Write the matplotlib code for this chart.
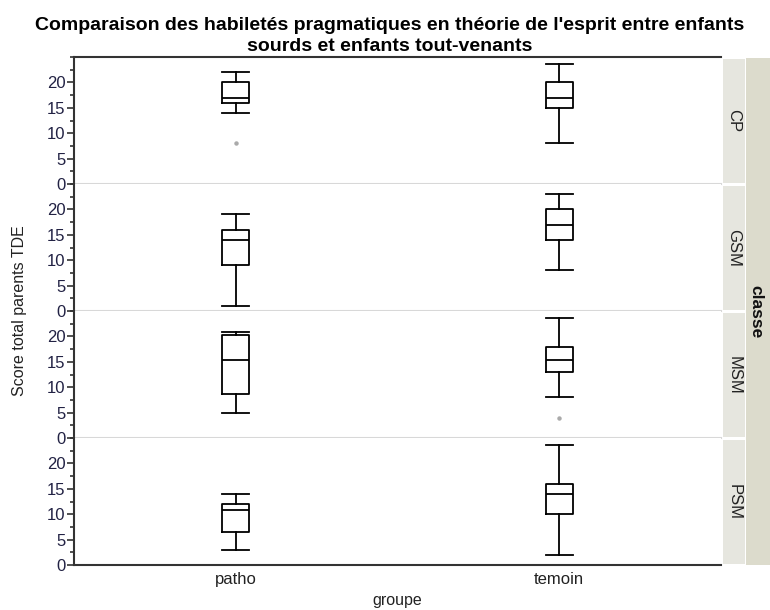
import matplotlib.pyplot as plt
from matplotlib.ticker import MultipleLocator

# data (per classe, per groupe)
classes = ["CP", "GSM", "MSM", "PSM"]
groups = ["patho", "temoin"]

q1 = {"CP": [16, 15], "GSM": [9, 14], "MSM": [8.7, 13], "PSM": [6.5, 10]}
med = {"CP": [17, 17], "GSM": [14, 17], "MSM": [15.4, 15.4], "PSM": [10.8, 14]}
q3 = {"CP": [20, 20], "GSM": [16, 20], "MSM": [20.2, 18], "PSM": [12, 16]}
whislo = {"CP": [14, 8], "GSM": [1, 8], "MSM": [5, 8], "PSM": [3, 2]}
whishi = {"CP": [22, 23.7], "GSM": [19, 23], "MSM": [20.8, 23.7], "PSM": [14, 23.7]}
fliers = {"CP": [[8], []], "GSM": [[], []], "MSM": [[], [4]], "PSM": [[], []]}

plt.rcParams["font.family"] = ["Liberation Sans", "DejaVu Sans"]

W, H = 770, 610
fig = plt.figure(figsize=(W / 100, H / 100), dpi=100)

left, right = 74, 721
edges = [57, 184, 311, 438, 565]
dark = "#333333"

for i, cl in enumerate(classes):
    top, bot = edges[i], edges[i + 1]
    ax = fig.add_axes([left / W, 1 - bot / H, (right - left) / W, (bot - top) / H])
    stats = []
    for j in range(2):
        stats.append(dict(med=med[cl][j], q1=q1[cl][j], q3=q3[cl][j],
                          whislo=whislo[cl][j], whishi=whishi[cl][j],
                          fliers=fliers[cl][j]))
    ax.bxp(stats, positions=[1, 2], widths=0.085, showcaps=True,
           boxprops=dict(color="black", linewidth=1.3),
           medianprops=dict(color="black", linewidth=1.3),
           whiskerprops=dict(color="black", linewidth=1.3),
           capprops=dict(color="black", linewidth=1.3),
           capwidths=0.085,
           flierprops=dict(marker="o", markersize=2.2, markerfacecolor="#aaaaaa",
                           markeredgecolor="#aaaaaa"))
    ax.set_xlim(0.5, 2.5)
    ax.set_ylim(0, 25)
    ax.yaxis.set_major_locator(MultipleLocator(5))
    ax.yaxis.set_minor_locator(MultipleLocator(2.5))
    ax.set_yticks([0, 5, 10, 15, 20])
    ax.tick_params(axis="y", which="major", length=5, width=1.2, color=dark,
                   labelsize=12, labelcolor="#222244", pad=1)
    ax.tick_params(axis="y", which="minor", length=3, width=1.2, color=dark)
    ax.spines["right"].set_visible(False)
    ax.spines["left"].set_color(dark)
    ax.spines["left"].set_linewidth(1.5)
    ax.spines["top"].set_visible(i == 0)
    ax.spines["top"].set_color(dark)
    ax.spines["top"].set_linewidth(1.5)
    if i < 3:
        ax.spines["bottom"].set_color("#d8d8d8")
        ax.spines["bottom"].set_linewidth(1.5)
        ax.set_xticks([])
    else:
        ax.spines["bottom"].set_color(dark)
        ax.spines["bottom"].set_linewidth(1.5)
        ax.set_xticks([1, 2])
        ax.set_xticklabels(groups)
        ax.tick_params(axis="x", length=0, labelsize=12, labelcolor="#222222", pad=5)
        ax.set_xlabel("groupe", fontsize=11.5, color="#222222", labelpad=4)

    # strip label for the panel
    sax = fig.add_axes([723 / W, 1 - (bot - 1) / H, 22 / W, (bot - top - 3) / H])
    sax.set_facecolor("#e6e6df")
    sax.set_xticks([])
    sax.set_yticks([])
    for s in sax.spines.values():
        s.set_visible(False)
    sax.text(0.5, 0.5, cl, rotation=270, ha="center", va="center",
             fontsize=12, color="#222222", transform=sax.transAxes)

# outer strip "classe"
oax = fig.add_axes([746 / W, 1 - 565 / H, 24 / W, (565 - 58) / H])
oax.set_facecolor("#dcdbcc")
oax.set_xticks([])
oax.set_yticks([])
for s in oax.spines.values():
    s.set_visible(False)
oax.text(0.4, 0.5, "classe", rotation=270, ha="center", va="center",
         fontsize=12.5, fontweight="bold", color="#111111", transform=oax.transAxes)

fig.text(20 / W, 1 - 311 / H, "Score total parents TDE", rotation=90,
         ha="center", va="center", fontsize=11.5, color="#222222")

fig.text(390 / W, 1 - 36 / H,
         "Comparaison des habiletés pragmatiques en théorie de l'esprit entre enfants\nsourds et enfants tout-venants",
         ha="center", va="center", fontsize=14, fontweight="bold",
         linespacing=1.25)

fig.savefig("out.png", dpi=100)
